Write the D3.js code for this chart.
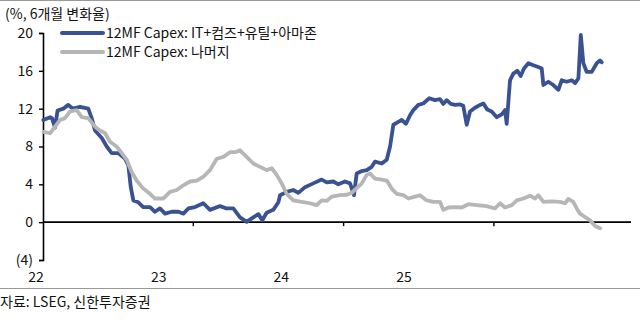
<!DOCTYPE html>
<html><head><meta charset="utf-8">
<script src="https://cdn.jsdelivr.net/npm/d3@7"></script>
<style>
body{margin:0;background:#fff;}
svg text{font-family:"Noto Sans CJK KR","Noto Sans",sans-serif;fill:#111;}
</style></head>
<body><svg id="c" width="640" height="325"></svg>
<script>
// ---- data (decimal years, % 6-month change) ----
const seriesNames = ["12MF Capex: IT+컴즈+유틸+아마존", "12MF Capex: 나머지"];
const yTicks = [-4, 0, 4, 8, 12, 16, 20];
const yearLabels = ["22", "23", "24", "25"];
const yearTicks = [2023, 2024, 2025];

const blueT = [2022.002,2022.047,2022.060,2022.080,2022.097,2022.135,2022.168,2022.200,2022.246,2022.301,2022.324,2022.346,2022.391,2022.424,2022.457,2022.501,2022.546,2022.568,2022.584,2022.601,2022.634,2022.667,2022.712,2022.745,2022.778,2022.812,2022.856,2022.900,2022.934,2022.967,2023.011,2023.067,2023.111,2023.178,2023.222,2023.266,2023.311,2023.355,2023.399,2023.433,2023.459,2023.488,2023.532,2023.566,2023.577,2023.621,2023.665,2023.699,2023.743,2023.798,2023.854,2023.888,2023.932,2023.965,2024.009,2024.043,2024.069,2024.087,2024.121,2024.154,2024.187,2024.209,2024.254,2024.287,2024.309,2024.331,2024.364,2024.387,2024.415,2024.442,2024.464,2024.497,2024.530,2024.570,2024.608,2024.641,2024.663,2024.686,2024.713,2024.741,2024.775,2024.796,2024.819,2024.841,2024.874,2024.908,2024.930,2024.956,2024.985,2025.019,2025.052,2025.074,2025.085,2025.107,2025.129,2025.156,2025.178,2025.200,2025.229,2025.262,2025.295,2025.318,2025.329,2025.362,2025.395,2025.429,2025.451,2025.484,2025.518,2025.540,2025.562,2025.578,2025.595,2025.617,2025.651,2025.684,2025.706,2025.717];
const blueV = [10.8,11.1,11.0,10.0,11.8,12.0,12.4,12.0,12.2,12.0,11.0,9.7,8.9,8.0,7.3,7.3,6.7,6.0,3.7,2.3,2.1,1.6,1.6,1.1,1.45,0.9,1.1,1.1,0.9,1.45,1.6,2.0,1.3,1.7,1.45,1.45,0.5,0.03,0.5,0.85,0.2,1.0,1.3,2.1,2.85,3.2,3.4,3.1,3.7,4.1,4.5,4.2,4.3,4.0,4.3,4.1,2.85,5.15,5.4,5.5,5.85,6.4,6.2,6.6,8.0,10.3,10.6,10.8,10.4,11.3,11.85,12.4,12.55,13.1,12.9,13.0,12.5,12.9,12.5,12.4,12.45,12.3,10.3,11.7,12.1,12.4,12.55,11.9,11.7,11.1,11.4,11.85,10.4,15.0,15.7,16.0,15.45,16.25,16.8,16.6,16.4,16.25,14.5,14.85,14.5,14.0,15.0,14.85,15.0,14.7,15.2,19.8,16.8,15.9,15.9,16.8,17.1,16.9];

const grayT = [2022.002,2022.047,2022.080,2022.113,2022.146,2022.180,2022.224,2022.258,2022.301,2022.346,2022.379,2022.413,2022.446,2022.490,2022.524,2022.557,2022.590,2022.623,2022.667,2022.712,2022.745,2022.800,2022.845,2022.890,2022.934,2022.978,2023.023,2023.067,2023.111,2023.156,2023.200,2023.244,2023.278,2023.311,2023.355,2023.399,2023.444,2023.488,2023.522,2023.555,2023.588,2023.621,2023.665,2023.721,2023.777,2023.821,2023.854,2023.888,2023.921,2023.976,2024.021,2024.054,2024.076,2024.121,2024.154,2024.176,2024.209,2024.254,2024.287,2024.320,2024.353,2024.397,2024.431,2024.475,2024.508,2024.553,2024.597,2024.641,2024.663,2024.697,2024.741,2024.786,2024.830,2024.886,2024.952,2025.007,2025.041,2025.074,2025.119,2025.152,2025.196,2025.240,2025.274,2025.295,2025.329,2025.385,2025.440,2025.473,2025.495,2025.528,2025.551,2025.573,2025.606,2025.639,2025.673,2025.706];
const grayV = [9.55,9.4,10.1,10.8,11.0,11.7,11.85,11.1,11.0,10.1,9.7,9.4,8.5,8.0,7.3,6.6,5.3,4.4,3.55,3.0,2.5,2.5,3.2,3.4,3.9,4.3,4.4,4.8,5.5,6.7,6.9,7.4,7.4,7.6,6.9,6.2,5.85,5.5,5.7,5.0,4.1,3.0,2.3,2.15,2.0,1.8,2.3,2.25,2.7,2.85,2.9,3.1,3.45,4.1,5.0,5.15,4.6,4.5,4.4,3.55,3.0,2.85,2.5,2.7,2.85,2.3,2.15,2.15,1.3,1.55,1.6,1.55,1.9,1.8,1.7,1.45,2.0,1.55,1.8,2.3,2.5,2.8,2.5,2.85,2.15,2.2,2.15,2.0,2.45,2.15,1.45,0.9,0.55,0.2,-0.4,-0.65];

const colors = ["#3a5291", "#b6b6b6"];

// ---- layout ----
const svg = d3.select("#c");
const x = d3.scaleLinear().domain([2022, 2025.912]).range([43, 631]);
const y = d3.scaleLinear().domain([-4, 20]).range([260, 33]);
const labelX = d3.scaleLinear().domain([2022, 2025]).range([36, 404]);

// top & bottom frame lines
svg.append("line").attr("x1",0).attr("x2",640).attr("y1",0.5).attr("y2",0.5).attr("stroke","#9a9a9a").attr("stroke-width",1);
svg.append("line").attr("x1",0).attr("x2",640).attr("y1",288.5).attr("y2",288.5).attr("stroke","#9a9a9a").attr("stroke-width",1);

// y axis
const yAxis = d3.axisLeft(y).tickValues(yTicks).tickSize(4).tickPadding(6)
  .tickFormat(d => d < 0 ? `(${Math.abs(d)})` : d);
const gy = svg.append("g").attr("transform", `translate(${x(2022)},0)`).call(yAxis);
gy.select(".domain").attr("stroke","#000").attr("stroke-width",1.6);
gy.selectAll(".tick line").attr("stroke","#000").attr("stroke-width",1.4);
gy.selectAll(".tick text").attr("font-size",14).attr("font-family",'"Noto Sans CJK KR","Noto Sans",sans-serif').attr("fill","#111");

// zero line + year tick marks
svg.append("line").attr("x1",x(2022)).attr("x2",x.range()[1]).attr("y1",y(0)).attr("y2",y(0)).attr("stroke","#000").attr("stroke-width",1.6);
svg.selectAll(".yt").data(yearTicks).enter().append("line")
  .attr("x1",d=>x(d)).attr("x2",d=>x(d)).attr("y1",y(0)).attr("y2",y(0)+4).attr("stroke","#000").attr("stroke-width",1.4);
svg.selectAll(".yl").data(yearLabels).enter().append("text")
  .attr("x",(d,i)=>labelX(2022+i)).attr("y",282).attr("text-anchor","middle").attr("font-size",14).text(d=>d);

// series
const line = d3.line().x(d=>x(d[0])).y(d=>y(d[1]));
const blue = blueT.map((t,i)=>[t, blueV[i]]);
const gray = grayT.map((t,i)=>[t, grayV[i]]);
svg.append("path").datum(blue).attr("d",line).attr("fill","none").attr("stroke",colors[0]).attr("stroke-width",3.8).attr("stroke-linejoin","round").attr("stroke-linecap","round");
svg.append("path").datum(gray).attr("d",line).attr("fill","none").attr("stroke",colors[1]).attr("stroke-width",3.8).attr("stroke-linejoin","round").attr("stroke-linecap","round");

// axis title
svg.append("text").attr("x",5).attr("y",19).attr("font-size",14).text("(%, 6개월 변화율)");

// legend
const lg = svg.append("g");
seriesNames.forEach((n,i)=>{
  const ly = 33 + i*19;
  lg.append("line").attr("x1",62).attr("x2",103).attr("y1",ly).attr("y2",ly).attr("stroke",colors[i]).attr("stroke-width",4).attr("stroke-linecap","round");
  lg.append("text").attr("x",106).attr("y",ly+5).attr("font-size",14).text(n);
});

// source
svg.append("text").attr("x",0).attr("y",307).attr("font-size",14).text("자료: LSEG, 신한투자증권");
</script></body></html>
